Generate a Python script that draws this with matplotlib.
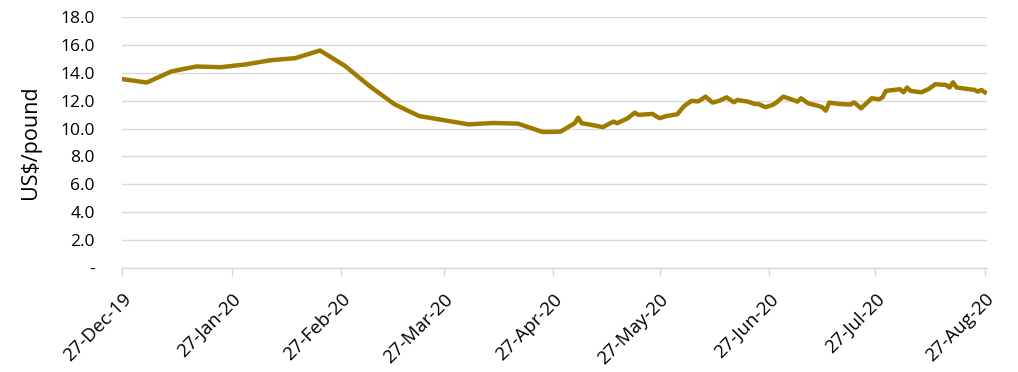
import matplotlib
matplotlib.use("Agg")
import matplotlib.pyplot as plt
import matplotlib.dates as mdates
import numpy as np
import pandas as pd

# weekly prices to end of April, then daily
dates = [
    "2019-12-27", "2020-01-03", "2020-01-10", "2020-01-17", "2020-01-24",
    "2020-01-31", "2020-02-07", "2020-02-14", "2020-02-21", "2020-02-28",
    "2020-03-06", "2020-03-13", "2020-03-20", "2020-03-27", "2020-04-03",
    "2020-04-10", "2020-04-17", "2020-04-24", "2020-04-29", "2020-05-03",
    "2020-05-04", "2020-05-05", "2020-05-07", "2020-05-11", "2020-05-13",
    "2020-05-14", "2020-05-15", "2020-05-18", "2020-05-20", "2020-05-21",
    "2020-05-25", "2020-05-27", "2020-05-29", "2020-06-01", "2020-06-03",
    "2020-06-05", "2020-06-07", "2020-06-09", "2020-06-11", "2020-06-13",
    "2020-06-15", "2020-06-17", "2020-06-18", "2020-06-21", "2020-06-23",
    "2020-06-24", "2020-06-26", "2020-06-28", "2020-06-29", "2020-07-01",
    "2020-07-03", "2020-07-05", "2020-07-06", "2020-07-08", "2020-07-11",
    "2020-07-12", "2020-07-13", "2020-07-14", "2020-07-17", "2020-07-20",
    "2020-07-21", "2020-07-23", "2020-07-26", "2020-07-28", "2020-07-29",
    "2020-07-30", "2020-08-03", "2020-08-04", "2020-08-05", "2020-08-06",
    "2020-08-09", "2020-08-11", "2020-08-13", "2020-08-16", "2020-08-17",
    "2020-08-18", "2020-08-19", "2020-08-22", "2020-08-24", "2020-08-25",
    "2020-08-26", "2020-08-27",
]
prices = [
    13.55, 13.30, 14.10, 14.45, 14.40,
    14.60, 14.90, 15.05, 15.60, 14.50,
    13.05, 11.75, 10.90, 10.60, 10.30,
    10.40, 10.35, 9.75, 9.78, 10.38,
    10.78, 10.38, 10.30, 10.10, 10.38,
    10.50, 10.38, 10.74, 11.14, 10.98,
    11.05, 10.74, 10.90, 11.02, 11.62,
    11.98, 11.95, 12.29, 11.86, 12.00,
    12.24, 11.88, 12.05, 11.93, 11.76,
    11.76, 11.53, 11.70, 11.86, 12.29,
    12.12, 11.93, 12.17, 11.81, 11.62,
    11.53, 11.28, 11.86, 11.76, 11.72,
    11.88, 11.45, 12.17, 12.10, 12.22,
    12.70, 12.82, 12.60, 12.94, 12.70,
    12.60, 12.82, 13.18, 13.13, 12.94,
    13.32, 12.94, 12.84, 12.78, 12.65,
    12.77, 12.60,
]
tick_dates = ["2019-12-27", "2020-01-27", "2020-02-27", "2020-03-27", "2020-04-27",
              "2020-05-27", "2020-06-27", "2020-07-27", "2020-08-27"]
y_ticks = [0, 2, 4, 6, 8, 10, 12, 14, 16, 18]

x = pd.to_datetime(dates)
ticks = pd.to_datetime(tick_dates)

plt.rcParams["font.family"] = ["Open Sans", "DejaVu Sans"]

fig = plt.figure(figsize=(10.18, 3.72), dpi=100)
ax = fig.add_axes([122 / 1018, 104 / 372, 865 / 1018, 251 / 372])

ax.plot(x, prices, color="#9E7A00", linewidth=3.2, solid_joinstyle="round", zorder=3)

ax.set_ylim(0, 18)
ax.set_yticks(y_ticks)
ax.set_yticklabels(["-"] + [f"{v:.1f}" for v in y_ticks[1:]])
ax.grid(axis="y", color="#D9D9D9", linewidth=1.0)
ax.set_axisbelow(True)

ax.set_xlim(ticks[0], ticks[-1] + pd.Timedelta(days=0.6))
ax.set_xticks(ticks)
ax.xaxis.set_major_formatter(mdates.DateFormatter("%d-%b-%y"))
for lbl in ax.get_xticklabels():
    lbl.set_rotation(45)
    lbl.set_ha("right")
    lbl.set_rotation_mode("anchor")

for side in ["top", "right", "left"]:
    ax.spines[side].set_visible(False)
ax.spines["bottom"].set_color("#D9D9D9")
ax.spines["bottom"].set_linewidth(1.0)

ax.tick_params(axis="x", direction="out", length=6, color="#D9D9D9", width=1.0,
               labelsize=13.5, labelcolor="#000000", pad=10)
ax.tick_params(axis="y", length=0, labelsize=12.5, labelcolor="#000000", pad=19.5)

ax.set_ylabel("US$/pound", fontsize=15.5, labelpad=14)

fig.savefig("out.png", dpi=100)
